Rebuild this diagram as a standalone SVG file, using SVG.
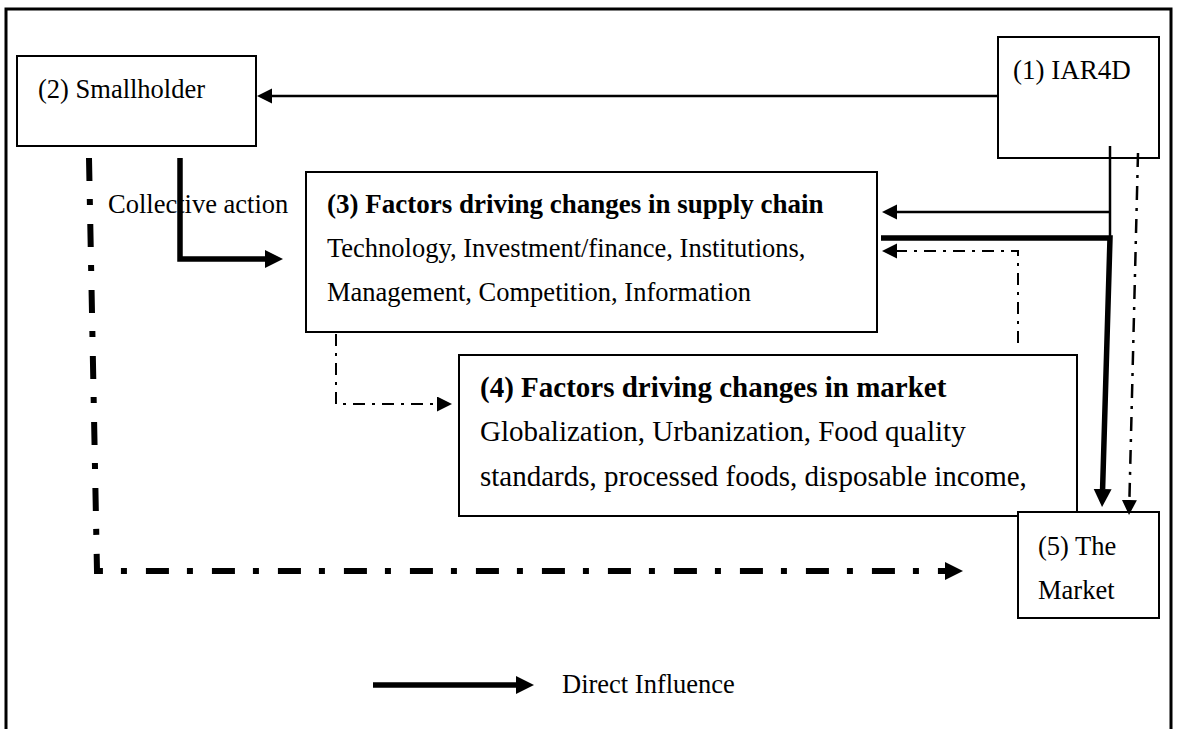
<svg xmlns="http://www.w3.org/2000/svg" width="1180" height="729" viewBox="0 0 1180 729">
<style>
  text { font-family: "Liberation Serif", "Times New Roman", serif; font-size: 26.5px; fill: #000; }
  .bold { font-weight: bold; font-size: 27px; }
  .big { font-size: 29px; }
  .box { fill: #fff; stroke: #000; stroke-width: 2; }
  .thin { fill: none; stroke: #000; stroke-width: 2.5; }
  .thick { fill: none; stroke: #000; stroke-width: 5.5; }
  .dd { fill: none; stroke: #000; stroke-width: 2; stroke-dasharray: 12 7 3 7; }
  .dd2 { fill: none; stroke: #000; stroke-width: 2.5; stroke-dasharray: 14 8 3 8; }
  .ddthick { fill: none; stroke: #000; stroke-width: 6; stroke-dasharray: 23 18 6 19; }
</style>
<defs>
  <marker id="ah" markerUnits="userSpaceOnUse" markerWidth="16" markerHeight="16" refX="0" refY="7.5" orient="auto">
    <path d="M0,0 L15,7.5 L0,15 z" fill="#000"/>
  </marker>
  <marker id="ahT" markerUnits="userSpaceOnUse" markerWidth="19" markerHeight="19" refX="0" refY="9" orient="auto">
    <path d="M0,0 L18,9 L0,18 z" fill="#000"/>
  </marker>
</defs>
<rect width="1180" height="729" fill="#fff"/>
<path d="M6,740 V9 H1171 V740" fill="none" stroke="#000" stroke-width="3"/>

<g id="n2-smallholder">
  <rect class="box" x="17" y="56" width="239" height="90"/>
  <text x="38" y="98">(2) Smallholder</text>
</g>
<g id="n1-iar4d">
  <rect class="box" x="998" y="37" width="161" height="121"/>
  <text x="1013" y="79" style="font-size:27px">(1) IAR4D</text>
</g>
<g id="n3-supply">
  <rect class="box" x="306" y="172" width="571" height="160"/>
  <text class="bold" x="327" y="213">(3) Factors driving changes in supply chain</text>
  <text x="327" y="257">Technology, Investment/finance, Institutions,</text>
  <text x="327" y="301">Management, Competition, Information</text>
</g>
<g id="n4-market-factors">
  <rect class="box" x="459" y="355" width="618" height="161"/>
  <text class="bold big" x="480" y="397">(4) Factors driving changes in market</text>
  <text class="big" x="480" y="441">Globalization, Urbanization, Food quality</text>
  <text class="big" x="480" y="486">standards, processed foods, disposable income,</text>
</g>
<g id="n5-market">
  <rect class="box" x="1018" y="512" width="141" height="106"/>
  <text x="1038" y="555">(5) The</text>
  <text x="1038" y="599">Market</text>
</g>

<g id="label-collective">
  <text x="108" y="213">Collective action</text>
</g>

<g id="connectors">
  <path class="thin" d="M998,96 H272" marker-end="url(#ah)"/>
  <path class="thin" d="M1110,146 V236"/>
  <path class="thin" d="M1110,212 H897" marker-end="url(#ah)"/>
  <path class="thick" d="M881,238 H1110 L1102.6,489" marker-end="url(#ahT)"/>
  <path class="dd2" d="M1138,153 L1129.4,500" marker-end="url(#ah)"/>
  <path class="dd" d="M1018,343 V251 H897" marker-end="url(#ah)"/>
  <path class="dd" d="M336,334 V404 H437" marker-end="url(#ah)"/>
  <path class="thick" d="M180,158 V259 H265" stroke-width="6" marker-end="url(#ahT)"/>
  <path class="ddthick" d="M89,158 L97,571 H945" marker-end="url(#ahT)"/>
</g>

<g id="legend">
  <path class="thick" d="M373,685 H516" stroke-width="6" marker-end="url(#ahT)"/>
  <text x="562" y="693">Direct Influence</text>
</g>
</svg>
